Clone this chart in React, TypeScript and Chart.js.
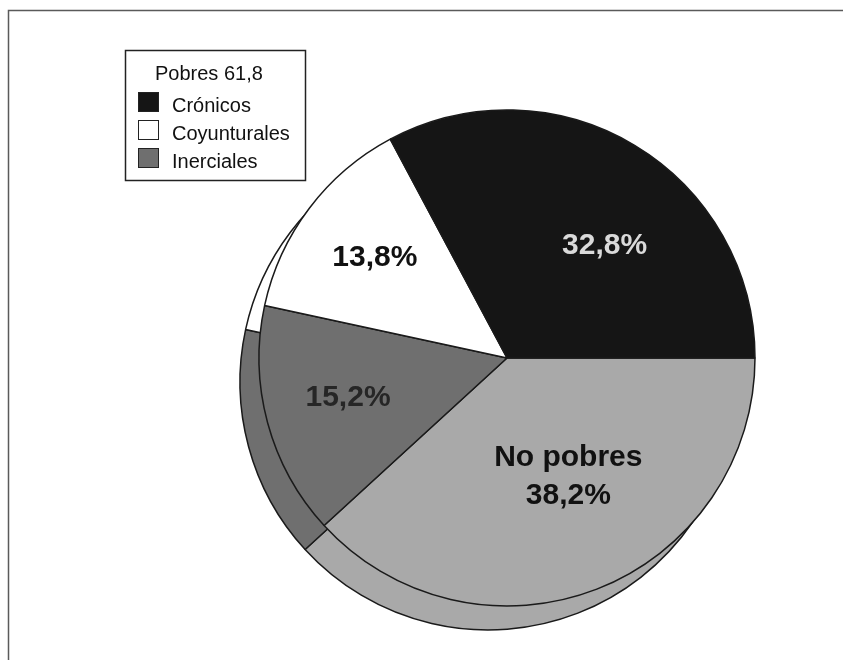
import React, { useEffect, useRef } from 'react';
import { Chart, registerables } from 'chart.js';

Chart.register(...registerables);

// Distribución de la población: pobres (crónicos, coyunturales, inerciales) y no pobres
const categories = ['Crónicos', 'Coyunturales', 'Inerciales', 'No pobres'];
const shares = [32.8, 13.8, 15.2, 38.2];
const poorCategories = ['Crónicos', 'Coyunturales', 'Inerciales'];
const poorTotal = 61.8;
const legendTitle = 'Pobres';
const namedLabels = ['No pobres'];

const sliceColors = ['#151515', '#ffffff', '#6f6f6f', '#a9a9a9'];
const labelColors = ['#dadada', '#111111', '#262626', '#111111'];
// where each value label sits: fraction of the outer radius and a turn (degrees) off the slice middle
const labelPlace = [
  { frac: 0.6, turn: 10 },
  { frac: 0.668, turn: 0 },
  { frac: 0.661, turn: 1 },
  { frac: 0.54, turn: -6 },
];

const FONT = "'Liberation Sans', Arial, Helvetica, sans-serif";
const fmt = (v: number) => v.toFixed(1).replace('.', ',');

// slices run clockwise from three o'clock, so the chart takes the categories in reverse
const order = categories.map((_, i) => categories.length - 1 - i);

const SHADOW_DX = -19;
const SHADOW_DY = 24;

const shadowPlugin = {
  id: 'pieShadow',
  beforeDatasetsDraw(chart: any) {
    const ctx = chart.ctx;
    const meta = chart.getDatasetMeta(0);
    ctx.save();
    ctx.translate(SHADOW_DX, SHADOW_DY);
    meta.data.forEach((arc: any) => arc.draw(ctx));
    ctx.restore();
  },
};

const valueLabelPlugin = {
  id: 'valueLabels',
  afterDatasetsDraw(chart: any) {
    const ctx = chart.ctx;
    const meta = chart.getDatasetMeta(0);
    ctx.save();
    ctx.textAlign = 'center';
    ctx.textBaseline = 'middle';
    ctx.font = `bold 30px ${FONT}`;
    meta.data.forEach((arc: any, j: number) => {
      const ci = order[j];
      const { x, y, startAngle, endAngle, outerRadius } = arc.getProps(
        ['x', 'y', 'startAngle', 'endAngle', 'outerRadius'],
        true
      );
      const place = labelPlace[ci];
      const mid = (startAngle + endAngle) / 2 + (place.turn * Math.PI) / 180;
      const r = outerRadius * place.frac;
      const px = x + Math.cos(mid) * r;
      const py = y + Math.sin(mid) * r;
      const lines = namedLabels.includes(categories[ci])
        ? [categories[ci], `${fmt(shares[ci])}%`]
        : [`${fmt(shares[ci])}%`];
      const lh = 38;
      ctx.fillStyle = labelColors[ci];
      lines.forEach((t, k) => {
        ctx.fillText(t, px, py + (k - (lines.length - 1) / 2) * lh);
      });
    });
    ctx.restore();
  },
};

const framePlugin = {
  id: 'frameAndLegend',
  afterDraw(chart: any) {
    const ctx = chart.ctx;
    const W = chart.width;
    const H = chart.height;
    ctx.save();
    // outer frame (top and left edges)
    ctx.strokeStyle = '#5a5a5a';
    ctx.lineWidth = 1.5;
    ctx.beginPath();
    ctx.moveTo(8.5, H);
    ctx.lineTo(8.5, 10.5);
    ctx.lineTo(W, 10.5);
    ctx.stroke();

    // boxed legend for the poor categories
    const bx = 125.5, by = 50.5, bw = 180, bh = 130;
    ctx.fillStyle = '#ffffff';
    ctx.fillRect(bx, by, bw, bh);
    ctx.strokeStyle = '#222222';
    ctx.lineWidth = 1.5;
    ctx.strokeRect(bx, by, bw, bh);

    ctx.font = `20px ${FONT}`;
    ctx.textAlign = 'left';
    ctx.textBaseline = 'alphabetic';
    ctx.fillStyle = '#111111';
    ctx.fillText(`${legendTitle} ${fmt(poorTotal)}`, 155, 80);

    const labels: string[] = chart.data.labels;
    const colors: string[] = chart.data.datasets[0].backgroundColor;
    poorCategories.forEach((name, k) => {
      const top = 92 + k * 28;
      const idx = labels.indexOf(name);
      ctx.fillStyle = colors[idx];
      ctx.fillRect(138, top, 21, 20);
      ctx.strokeStyle = '#222222';
      ctx.lineWidth = 1;
      ctx.strokeRect(138.5, top + 0.5, 20, 19);
      ctx.fillStyle = '#111111';
      ctx.fillText(name, 172, top + 20);
    });
    ctx.restore();
  },
};

export default function App() {
  const canvasRef = useRef<HTMLCanvasElement | null>(null);

  useEffect(() => {
    const canvas = canvasRef.current;
    if (!canvas) return;
    const chart = new Chart(canvas, {
      type: 'pie',
      data: {
        labels: order.map((i) => categories[i]),
        datasets: [
          {
            data: order.map((i) => shares[i]),
            backgroundColor: order.map((i) => sliceColors[i]),
            borderColor: '#1a1a1a',
            borderWidth: 1.5,
          },
        ],
      },
      options: {
        responsive: false,
        animation: false,
        devicePixelRatio: 1,
        rotation: 90,
        radius: 248,
        layout: { padding: { left: 171, right: 0, top: 56, bottom: 0 } },
        plugins: {
          legend: { display: false },
          tooltip: { enabled: false },
        },
      },
      plugins: [shadowPlugin, valueLabelPlugin, framePlugin],
    });
    return () => chart.destroy();
  }, []);

  return (
    <div style={{ position: 'absolute', left: 0, top: 0, width: 843, height: 660, background: '#ffffff' }}>
      <canvas ref={canvasRef} width={843} height={660} style={{ display: 'block' }} />
    </div>
  );
}
